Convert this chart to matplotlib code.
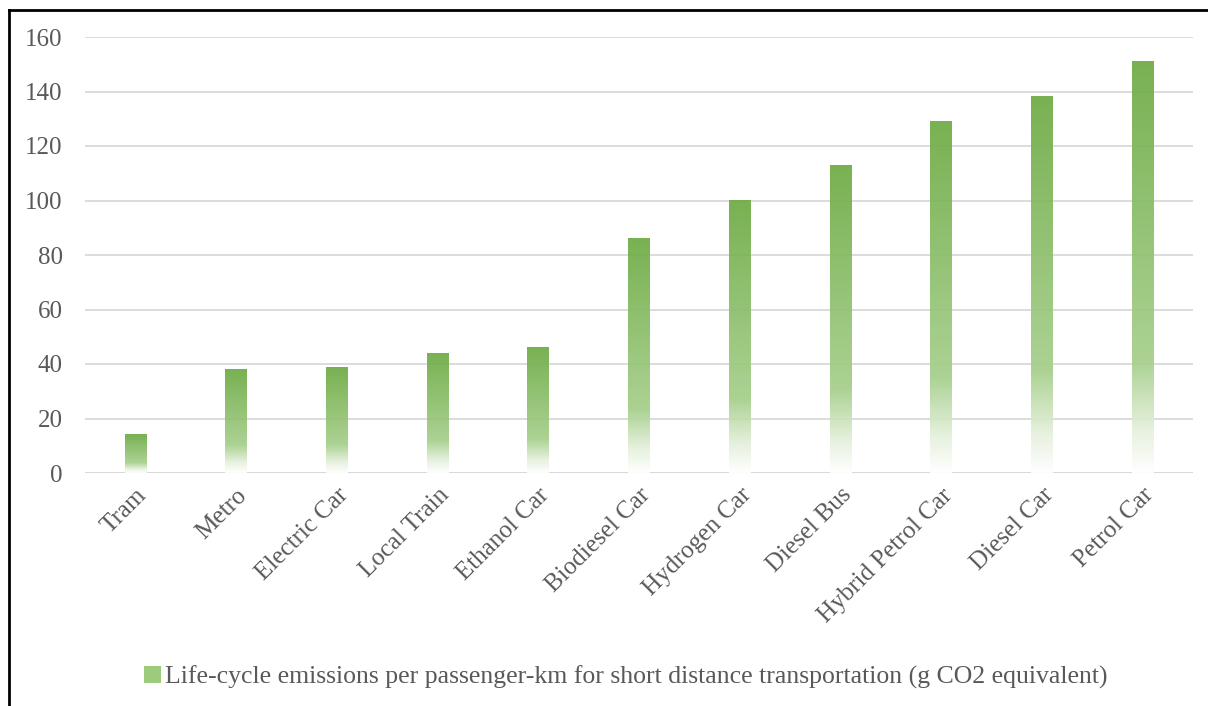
import numpy as np
import matplotlib.pyplot as plt
from matplotlib.colors import LinearSegmentedColormap
from matplotlib.lines import Line2D
from matplotlib.patches import Rectangle
from matplotlib.legend_handler import HandlerPatch

modes = ['Tram', 'Metro', 'Electric Car', 'Local Train', 'Ethanol Car',
         'Biodiesel Car', 'Hydrogen Car', 'Diesel Bus', 'Hybrid Petrol Car',
         'Diesel Car', 'Petrol Car']
emissions = [14, 38, 38.6, 44, 46, 86, 100, 113, 129, 138, 151]
yticks = [0, 20, 40, 60, 80, 100, 120, 140, 160]
series_name = 'Life-cycle emissions per passenger-km for short distance transportation (g CO2 equivalent)'

plt.rcParams['font.family'] = ['Liberation Serif', 'DejaVu Serif']
text_color = '#595959'
green = '#6EAB45'

# bottom-to-top gradient: white -> light green -> full green
grad_cmap = LinearSegmentedColormap.from_list(
    'bar_grad', [(0.0, '#FFFFFF'), (0.1, '#E6F1DE'), (0.27, '#A6CF8B'),
                 (1.0, green)])
grad = np.linspace(0, 1, 256).reshape(-1, 1)

fig = plt.figure(figsize=(12.08, 7.06), dpi=100)
ax = fig.add_axes([85 / 1208, 1 - 473 / 706, 1108 / 1208, 436 / 706])

bar_w = 0.215
x = np.arange(len(modes))
for xi, v in zip(x, emissions):
    ax.imshow(grad, cmap=grad_cmap, origin='lower', aspect='auto',
              extent=[xi - bar_w / 2, xi + bar_w / 2, 0, v], zorder=3,
              interpolation='bilinear', alpha=0.93)

ax.set_xlim(-0.5, len(modes) - 0.5)
ax.set_ylim(0, 160)
ax.set_yticks(yticks)
ax.set_xticks(x)
ax.set_xticklabels(modes, rotation=45, ha='right', rotation_mode='anchor',
                   fontsize=18, color=text_color)
ax.tick_params(axis='y', labelsize=18, labelcolor=text_color, length=0, pad=16)
ax.tick_params(axis='x', length=0, pad=8)
ax.yaxis.grid(True, color='#D9D9D9', linewidth=1.3, zorder=0)
ax.set_axisbelow(True)
for s in ax.spines.values():
    s.set_visible(False)
ax.axhline(0, color='#D9D9D9', linewidth=1.8, zorder=2)

# legend with a small gradient swatch
class GradHandler(HandlerPatch):
    def create_artists(self, legend, orig_handle, xdescent, ydescent,
                       width, height, fontsize, trans):
        r = Rectangle((width - 12, (height - 12) / 2), 12, 12,
                      facecolor='#9CCB7C', edgecolor='none', transform=trans)
        return [r]

handle = Rectangle((0, 0), 1, 1, facecolor=green)
fig.legend([handle], [series_name], handler_map={Rectangle: GradHandler()},
           loc='center', bbox_to_anchor=(624 / 1208, 1 - 677 / 706),
           frameon=False, fontsize=18.5, labelcolor=text_color,
           handlelength=0.8, handletextpad=0.15)

# frame lines along the top and left edges
fig.add_artist(Line2D([9 / 1208, 1], [1 - 10 / 706, 1 - 10 / 706],
                      transform=fig.transFigure, color='black', linewidth=2))
fig.add_artist(Line2D([9 / 1208, 9 / 1208], [0, 1 - 10 / 706],
                      transform=fig.transFigure, color='black', linewidth=2))

fig.savefig('out.png', dpi=100)
